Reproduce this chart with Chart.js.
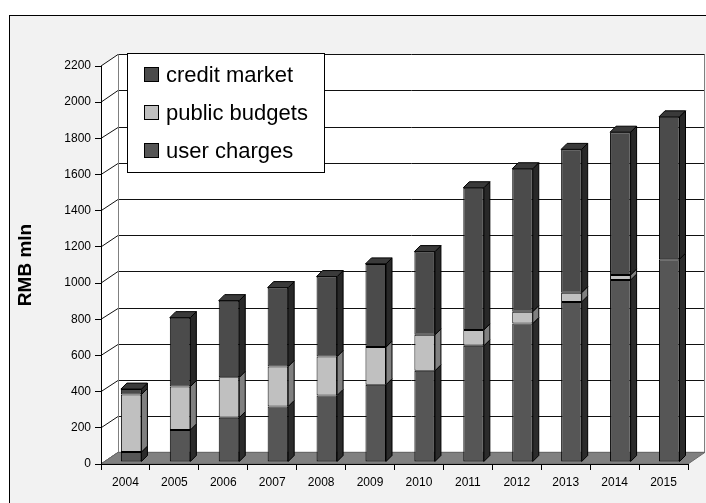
<!DOCTYPE html>
<html>
<head>
<meta charset="utf-8">
<title>RMB mln</title>
<script src="https://cdn.jsdelivr.net/npm/chart.js@4"></script>
<style>
  html, body { margin: 0; padding: 0; background: #fff; }
</style>
</head>
<body>
<canvas id="chart" width="706" height="503"></canvas>
<script>
// Data (RMB mln)
const years = ["2004", "2005", "2006", "2007", "2008", "2009", "2010", "2011", "2012", "2013", "2014", "2015"];
const userCharges = [55, 177, 245, 307, 368, 427, 504, 642, 765, 885, 1006, 1121];
const publicBudgets = [318, 240, 223, 221, 215, 208, 199, 88, 66, 51, 28, 0];
const creditMarket = [30, 381, 424, 436, 442, 460, 460, 786, 790, 792, 789, 787];

// Value axis
const yMin = 0;
const yMax = 2200;
const yStep = 200;

// 3D look (pixels)
const WALL_DX = 17, WALL_DY = -11.7; // back wall offset
const BAR_DX = 6, BAR_DY = -6; // bar depth
const SHIFT_X = 5.7, SHIFT_Y = -2; // bars sit a bit into the floor

Chart.defaults.font.family = "'Liberation Sans', Arial, sans-serif";
Chart.defaults.color = "#000";

// Walls, floor and gridlines on the back wall
const scene3d = {
  id: "scene3d",
  beforeDraw(chart) {
    const ctx = chart.ctx;
    const { left, right, top, bottom } = chart.chartArea;
    const yScale = chart.scales.y;
    const bx = left + WALL_DX, rx = right + WALL_DX;
    const ty = top + WALL_DY, by = bottom + WALL_DY;

    ctx.save();
    // outer frame
    ctx.fillStyle = "#f2f2f2";
    ctx.fillRect(9.5, 15.5, 720, 520);
    ctx.strokeStyle = "#000";
    ctx.lineWidth = 1;
    ctx.strokeRect(9.5, 15.5, 720, 520);

    // left wall + back wall
    ctx.fillStyle = "#fff";
    ctx.beginPath();
    ctx.moveTo(left, bottom);
    ctx.lineTo(left, top);
    ctx.lineTo(bx, ty);
    ctx.lineTo(rx, ty);
    ctx.lineTo(rx, by);
    ctx.lineTo(bx, by);
    ctx.closePath();
    ctx.fill();

    // gridlines
    ctx.strokeStyle = "#111";
    yScale.ticks.forEach((t) => {
      const py = yScale.getPixelForValue(t.value);
      const gy = Math.round(py + WALL_DY) + 0.5;
      ctx.beginPath();
      ctx.moveTo(left, py);
      ctx.lineTo(bx, gy);
      ctx.lineTo(rx, gy);
      ctx.stroke();
    });

    // wall edges
    ctx.strokeStyle = "#808080";
    ctx.beginPath();
    ctx.moveTo(Math.round(bx) + 0.5, ty);
    ctx.lineTo(Math.round(bx) + 0.5, by);
    ctx.moveTo(Math.round(rx) - 0.5, ty);
    ctx.lineTo(Math.round(rx) - 0.5, by);
    ctx.stroke();

    // floor
    ctx.fillStyle = "#808080";
    ctx.beginPath();
    ctx.moveTo(left, bottom);
    ctx.lineTo(bx, by);
    ctx.lineTo(rx, by);
    ctx.lineTo(right, bottom);
    ctx.closePath();
    ctx.fill();
    ctx.strokeStyle = "#6a6a6a";
    ctx.stroke();
    ctx.restore();
  },
  beforeDatasetsDraw(chart) {
    chart.ctx.save();
    chart.ctx.translate(SHIFT_X, SHIFT_Y);
  },
  afterDatasetsDraw(chart) {
    const ctx = chart.ctx;
    const tops = [];
    ctx.lineWidth = 1;
    ctx.strokeStyle = "#000";
    ctx.lineJoin = "round";
    chart.data.datasets.forEach((ds, di) => {
      const meta = chart.getDatasetMeta(di);
      meta.data.forEach((bar, i) => {
        if (!ds.data[i]) return;
        const xr = bar.x + bar.width / 2;
        ctx.fillStyle = ds.sideColor;
        ctx.beginPath();
        ctx.moveTo(xr, bar.y);
        ctx.lineTo(xr + BAR_DX, bar.y + BAR_DY);
        ctx.lineTo(xr + BAR_DX, bar.base + BAR_DY);
        ctx.lineTo(xr, bar.base);
        ctx.closePath();
        ctx.fill();
        ctx.stroke();
        if (!tops[i] || bar.y < tops[i].bar.y) tops[i] = { bar, ds };
      });
    });
    tops.forEach(({ bar, ds }) => {
      const xl = bar.x - bar.width / 2;
      const xr = bar.x + bar.width / 2;
      ctx.fillStyle = ds.topColor;
      ctx.beginPath();
      ctx.moveTo(xl, bar.y);
      ctx.lineTo(xl + BAR_DX, bar.y + BAR_DY);
      ctx.lineTo(xr + BAR_DX, bar.y + BAR_DY);
      ctx.lineTo(xr, bar.y);
      ctx.closePath();
      ctx.fill();
      ctx.stroke();
    });
    ctx.restore();
  },
};

// Boxed legend inside the plot
const boxLegend = {
  id: "boxLegend",
  afterDraw(chart) {
    const ctx = chart.ctx;
    ctx.save();
    ctx.fillStyle = "#fff";
    ctx.strokeStyle = "#000";
    ctx.lineWidth = 1;
    ctx.fillRect(127.5, 53.5, 197, 119);
    ctx.strokeRect(127.5, 53.5, 197, 119);
    ctx.font = "22px 'Liberation Sans', Arial, sans-serif";
    ctx.textBaseline = "middle";
    const items = [...chart.data.datasets].reverse();
    items.forEach((ds, k) => {
      const cy = 74.5 + k * 38;
      ctx.fillStyle = ds.backgroundColor;
      ctx.fillRect(144.5, cy - 7, 14, 14);
      ctx.strokeRect(144.5, cy - 7, 14, 14);
      ctx.fillStyle = "#000";
      ctx.fillText(ds.label, 166, cy + 1);
    });
    ctx.restore();
  },
};

const ctx = document.getElementById("chart").getContext("2d");

new Chart(ctx, {
  type: "bar",
  data: {
    labels: years,
    datasets: [
      {
        label: "user charges",
        data: userCharges,
        backgroundColor: "#565656",
        sideColor: "#2b2b2b",
        topColor: "#3a3a3a",
      },
      {
        label: "public budgets",
        data: publicBudgets,
        backgroundColor: "#c0c0c0",
        sideColor: "#808080",
        topColor: "#a0a0a0",
      },
      {
        label: "credit market",
        data: creditMarket,
        backgroundColor: "#4b4b4b",
        sideColor: "#282828",
        topColor: "#3a3a3a",
      },
    ].map((ds) => ({
      ...ds,
      borderColor: "#000",
      borderWidth: 1,
      borderSkipped: false,
      barPercentage: 0.42,
      categoryPercentage: 1,
      clip: false,
    })),
  },
  options: {
    responsive: false,
    animation: false,
    layout: {
      padding: { top: 66, right: 18, bottom: 0, left: 0 },
    },
    plugins: {
      legend: { display: false },
      tooltip: { enabled: false },
    },
    scales: {
      x: {
        stacked: true,
        grid: {
          drawOnChartArea: false,
          drawTicks: true,
          tickLength: 6,
          color: "#000",
        },
        border: { display: true, color: "#000" },
        ticks: {
          font: { size: 12 },
          padding: 5,
          maxRotation: 0,
          autoSkip: false,
        },
        afterFit: (scale) => {
          scale.height = 39;
        },
      },
      y: {
        stacked: true,
        min: yMin,
        max: yMax,
        grid: {
          drawOnChartArea: false,
          drawTicks: true,
          tickLength: 6,
          color: "#000",
        },
        border: { display: true, color: "#000" },
        ticks: {
          stepSize: yStep,
          font: { size: 12 },
          padding: 4,
          callback: (value) => String(value),
        },
        title: {
          display: true,
          text: "RMB mln",
          font: { size: 19, weight: "bold" },
          padding: { top: 14, bottom: 0 },
        },
        afterFit: (scale) => {
          scale.width = 101;
        },
      },
    },
  },
  plugins: [scene3d, boxLegend],
});
</script>
</body>
</html>
